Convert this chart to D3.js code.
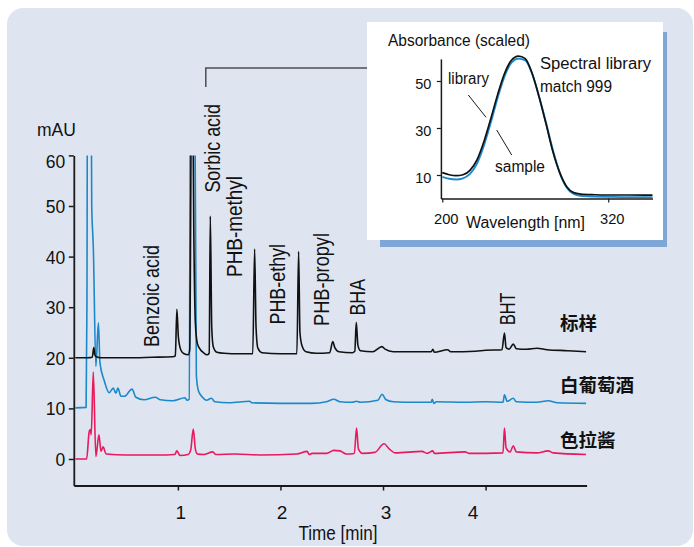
<!DOCTYPE html>
<html>
<head>
<meta charset="utf-8">
<script src="https://cdn.jsdelivr.net/npm/d3@7/dist/d3.min.js"></script>
<style>
  body { margin: 0; background: #ffffff; }
  svg { display: block; }
  text { font-family: "Liberation Sans", Arial, Helvetica, sans-serif; fill: #111; }
  .cjk { font-family: "Noto Sans CJK SC", "Noto Sans CJK TC", sans-serif; font-weight: 700; }
</style>
</head>
<body>
<svg id="chart" width="694" height="547"></svg>
<script>
// ---- Chromatograms: retention time (min) and detector signal (mAU) ----
// Standard mix (offset baseline 20 mAU)
const stdTime = [0.00, 0.12, 0.165, 0.18, 0.19, 0.205, 0.25, 0.50, 0.75, 0.95,
  0.975, 0.99, 1.005, 1.03, 1.06, 1.10, 1.115, 1.138, 1.155, 1.17,
  1.19, 1.22, 1.25, 1.285, 1.305, 1.316, 1.33, 1.345, 1.38, 1.45,
  1.60, 1.73, 1.748, 1.762, 1.78, 1.82, 2.00, 2.16, 2.177, 2.19,
  2.21, 2.25, 2.35, 2.48, 2.51, 2.53, 2.57, 2.70, 2.725, 2.739,
  2.755, 2.78, 2.90, 2.99, 3.02, 3.10, 3.30, 3.47, 3.486, 3.50,
  3.63, 3.66, 3.90, 4.00, 4.16, 4.184, 4.20, 4.23, 4.27, 4.30,
  4.40, 4.50, 4.60, 4.80, 4.98];
const stdSignal = [20.0, 20.0, 20.1, 22.0, 20.6, 20.2, 20.0, 20.0, 20.1, 20.2,
  20.4, 29.6, 24.0, 21.5, 20.8, 20.6, 21.5, 90, 45, 27,
  22.8, 21.6, 21.0, 20.6, 20.9, 48.0, 26, 22.2, 21.1, 20.9,
  20.8, 20.8, 41.5, 26, 21.9, 21.0, 20.8, 20.8, 41.0, 25,
  22.4, 21.2, 20.9, 21.0, 23.2, 22.0, 21.2, 21.0, 21.3, 27.0,
  22.5, 21.4, 21.2, 22.2, 21.7, 21.2, 21.2, 21.2, 21.7, 21.1,
  21.6, 21.2, 21.3, 21.5, 21.6, 24.9, 22.0, 21.7, 22.7, 21.8,
  21.7, 21.9, 21.6, 21.4, 21.2];

// White wine sample (offset baseline 10 mAU)
const wineTime = [0.00, 0.105, 0.113, 0.12, 0.15, 0.16, 0.17, 0.175, 0.20, 0.225,
  0.24, 0.28, 0.33, 0.37, 0.395, 0.415, 0.445, 0.478, 0.553, 0.59,
  0.67, 0.78, 0.83, 0.95, 1.07, 1.09, 1.11, 1.125, 1.16, 1.18,
  1.20, 1.24, 1.28, 1.326, 1.36, 1.50, 1.70, 1.72, 2.00, 2.30,
  2.45, 2.52, 2.58, 2.70, 2.74, 2.78, 2.95, 2.99, 3.03, 3.10,
  3.30, 3.47, 3.48, 3.495, 3.52, 3.80, 4.00, 4.17, 4.184, 4.21,
  4.27, 4.30, 4.50, 4.61, 4.70, 4.98];
const wineSignal = [10.1, 10.2, 30, 90, 90, 50, 44.4, 42, 18.3, 26.9,
  19, 15.6, 13.1, 14.0, 13.0, 14.0, 12.4, 12.4, 13.8, 12.2,
  11.7, 12.2, 11.7, 11.5, 12.1, 11.6, 11.8, 90, 90, 16.5,
  13.5, 12.2, 11.6, 12.0, 11.3, 11.1, 11.4, 11.1, 11.0, 11.0,
  11.3, 11.8, 11.3, 11.2, 11.4, 11.2, 11.6, 12.8, 11.7, 11.3,
  11.2, 11.2, 11.8, 11.0, 11.3, 11.2, 11.3, 11.2, 12.7, 11.4,
  12.0, 11.3, 11.2, 11.5, 11.1, 11.0];

// Salad dressing sample (baseline 0 mAU)
const dressingTime = [0.00, 0.11, 0.135, 0.145, 0.155, 0.175, 0.20, 0.23, 0.25, 0.27,
  0.30, 0.50, 0.80, 0.97, 0.99, 1.02, 1.10, 1.125, 1.15, 1.17,
  1.19, 1.25, 1.34, 1.37, 1.56, 1.80, 2.16, 2.26, 2.28, 2.31,
  2.45, 2.52, 2.58, 2.60, 2.64, 2.72, 2.742, 2.76, 2.80, 2.92,
  3.01, 3.06, 3.12, 3.38, 3.43, 3.486, 3.50, 3.80, 3.84, 4.17,
  4.184, 4.20, 4.24, 4.27, 4.30, 4.50, 4.61, 4.66, 4.98];
const dressingSignal = [0.0, 0.0, 5.4, 5.8, 4.8, 17.2, 0.5, 4.8, 1.5, 2.4,
  1.0, 0.8, 0.8, 0.9, 1.6, 0.7, 0.9, 1.8, 5.9, 2.0,
  1.0, 0.9, 1.4, 0.9, 1.0, 0.8, 1.0, 1.5, 0.9, 1.1,
  1.1, 1.7, 1.6, 1.4, 1.0, 1.1, 6.1, 2.0, 1.1, 1.3,
  3.0, 2.0, 1.2, 1.5, 1.1, 1.6, 1.1, 1.4, 1.1, 1.2,
  6.1, 2.2, 1.4, 2.6, 1.4, 1.2, 1.6, 1.2, 0.9];

const traceNames = ["标样", "白葡萄酒", "色拉酱"];
const timeTicks = [1, 2, 3, 4];
const signalTicks = [0, 10, 20, 30, 40, 50, 60];
const peakNames = ["Benzoic acid", "Sorbic acid", "PHB-methyl", "PHB-ethyl", "PHB-propyl", "BHA", "BHT"];

// ---- UV spectrum of sorbic acid: wavelength (nm) and scaled absorbance ----
const wavelength = [200, 205, 210, 215, 220, 225, 230, 235, 240, 245,
  250, 255, 260, 265, 270, 275, 280, 285, 290, 295,
  300, 310, 320, 335, 352];
const libraryAbs = [11.0, 10.1, 9.7, 10.1, 12.0, 16.3, 24.0, 33.8, 44.2, 53.2,
  58.8, 60.6, 59.5, 53.2, 43.2, 31.8, 19.9, 10.9, 5.0, 2.5,
  1.9, 1.6, 1.5, 1.5, 1.4];
const sampleAbs = [9.2, 8.4, 8.1, 8.6, 10.5, 14.8, 22.4, 32.2, 42.8, 52.0,
  57.8, 59.5, 58.8, 53.0, 43.4, 32.3, 20.5, 10.8, 4.6, 1.9,
  1.1, 0.8, 0.7, 0.6, 0.6];
const spectrumYTicks = [10, 30, 50];
const spectrumXTicks = [200, 320];

// ---------------------------------------------------------------------
const svg = d3.select("#chart");
const ink = "#1a1a1a";

// rounded background panel
svg.append("rect")
  .attr("x", 7).attr("y", 8).attr("width", 686).attr("height", 538)
  .attr("rx", 16).attr("fill", "#dfe5f0");

// main scales
const x = d3.scaleLinear().domain([-0.015, 4.985]).range([73.8, 586.6]);
const y = d3.scaleLinear().domain([-5.24, 60]).range([485.5, 155.4]);

// y axis
const yAxis = svg.append("g")
  .attr("transform", `translate(${x(-0.015)},0)`)
  .call(d3.axisLeft(y).tickValues(signalTicks).tickSize(5).tickSizeOuter(0));
yAxis.select(".domain").attr("stroke", ink).attr("stroke-width", 1.8);
yAxis.selectAll(".tick line").attr("stroke", ink).attr("stroke-width", 1.5);
yAxis.selectAll(".tick text")
  .attr("x", -8.5).attr("dy", null)
  .attr("y", d => d === 60 ? 12 : 6.5)
  .style("font-size", "17.5px").attr("fill", ink)
  .style("font-family", '"Liberation Sans", Arial, sans-serif');

// x axis
const xNudge = d => (d === 4 ? -13 : d === 2 ? 1 : 2.5);
const xAxis = svg.append("g")
  .attr("transform", `translate(0,${y(-5.24)})`)
  .call(d3.axisBottom(x).tickValues(timeTicks).tickSize(5).tickSizeOuter(0).tickFormat(d3.format("d")));
xAxis.select(".domain").attr("stroke", ink).attr("stroke-width", 1.8);
xAxis.selectAll(".tick line").attr("stroke", ink).attr("stroke-width", 1.5);
xAxis.selectAll(".tick text")
  .attr("y", 33.5).attr("dy", null).attr("x", xNudge)
  .style("font-size", "19px").attr("fill", ink)
  .style("font-family", '"Liberation Sans", Arial, sans-serif');

svg.append("text").attr("x", 338).attr("y", 540).attr("text-anchor", "middle")
  .attr("textLength", 79).attr("lengthAdjust", "spacingAndGlyphs")
  .style("font-size", "20px").text("Time [min]");
svg.append("text").attr("x", 37).attr("y", 136)
  .style("font-size", "17.5px").text("mAU");

// traces, clipped at the top of the signal axis
svg.append("clipPath").attr("id", "plotClip")
  .append("rect").attr("x", 70).attr("y", y(60)).attr("width", 530).attr("height", y(-5.24) - y(60));

const traceLine = d3.line()
  .x(d => x(d[0])).y(d => y(d[1]))
  .curve(d3.curveMonotoneX);

const traces = [
  { time: dressingTime, signal: dressingSignal, color: "#e8195c" },
  { time: wineTime, signal: wineSignal, color: "#1b88c9" },
  { time: stdTime, signal: stdSignal, color: "#111111" }
];
const traceGroup = svg.append("g").attr("clip-path", "url(#plotClip)");
traces.forEach(tr => {
  traceGroup.append("path")
    .datum(d3.zip(tr.time, tr.signal))
    .attr("d", traceLine)
    .attr("fill", "none")
    .attr("stroke", tr.color)
    .attr("stroke-width", 1.6)
    .attr("stroke-linejoin", "round");
});

// compound labels, rotated (text runs bottom to top)
const peakLabelLayout = [
  { x: 159, y: 347, len: 102 },
  { x: 219.5, y: 192.6, len: 88.6 },
  { x: 242.4, y: 277, len: 101 },
  { x: 284.8, y: 324.5, len: 80.5 },
  { x: 329.2, y: 326, len: 93 },
  { x: 364.5, y: 315.5, len: 36.6 },
  { x: 514.5, y: 325, len: 32.5 }
];
peakNames.forEach((name, i) => {
  const p = peakLabelLayout[i];
  svg.append("text")
    .attr("transform", `translate(${p.x},${p.y}) rotate(-90)`)
    .attr("textLength", p.len).attr("lengthAdjust", "spacingAndGlyphs")
    .style("font-size", "22px")
    .text(name);
});

// sample names at the right end of each trace
const traceNameY = [321.5, 383.7, 438.8];
traceNames.forEach((name, i) => {
  svg.append("text").attr("class", "cjk")
    .attr("x", 560).attr("y", traceNameY[i])
    .attr("dominant-baseline", "central")
    .style("font-size", "18.5px")
    .text(name);
});

// connector from the sorbic acid peak to the spectrum inset
svg.append("path")
  .attr("d", "M205.8,87 V68 H367")
  .attr("fill", "none").attr("stroke", "#4d4d4d").attr("stroke-width", 1.5);

// ---- inset: spectrum ----
svg.append("rect").attr("x", 380).attr("y", 32).attr("width", 287).attr("height", 215)
  .attr("fill", "#7ea7d8");
svg.append("rect").attr("x", 367).attr("y", 22).attr("width", 296).attr("height", 218)
  .attr("fill", "#ffffff");

const ix = d3.scaleLinear().domain([199, 352]).range([440.9, 652.5]);
const iy = d3.scaleLinear().domain([0, 59.4]).range([198.5, 58.9]);

const iyAxis = svg.append("g")
  .attr("transform", `translate(${ix(199)},0)`)
  .call(d3.axisLeft(iy).tickValues(spectrumYTicks).tickSize(4).tickSizeOuter(0));
iyAxis.select(".domain").attr("stroke", ink).attr("stroke-width", 1.5);
iyAxis.selectAll(".tick line").attr("stroke", ink).attr("stroke-width", 1.2);
iyAxis.selectAll(".tick text")
  .attr("x", -9.5).attr("dy", null).attr("y", 7.5)
  .style("font-size", "14.5px").attr("fill", ink)
  .style("font-family", '"Liberation Sans", Arial, sans-serif');

const ixAxis = svg.append("g")
  .attr("transform", `translate(0,${iy(0)})`)
  .call(d3.axisBottom(ix).tickValues(spectrumXTicks).tickSize(4).tickSizeOuter(0));
ixAxis.select(".domain").attr("stroke", ink).attr("stroke-width", 1.5);
ixAxis.selectAll(".tick line").attr("stroke", ink).attr("stroke-width", 1.2);
ixAxis.selectAll(".tick text")
  .attr("y", 25.5).attr("dy", null).attr("x", 3.5)
  .style("font-size", "14.7px").attr("fill", ink)
  .style("font-family", '"Liberation Sans", Arial, sans-serif');

const specLine = d3.line()
  .x(d => ix(d[0])).y(d => iy(d[1]))
  .curve(d3.curveMonotoneX);
svg.append("path").datum(d3.zip(wavelength, sampleAbs))
  .attr("d", specLine).attr("fill", "none")
  .attr("stroke", "#1b8ad0").attr("stroke-width", 1.9);
svg.append("path").datum(d3.zip(wavelength, libraryAbs))
  .attr("d", specLine).attr("fill", "none")
  .attr("stroke", "#111111").attr("stroke-width", 1.7);

svg.append("text").attr("x", 388).attr("y", 46)
  .attr("textLength", 142).attr("lengthAdjust", "spacingAndGlyphs")
  .style("font-size", "16px").text("Absorbance (scaled)");
svg.append("text").attr("x", 466).attr("y", 228)
  .attr("textLength", 119).attr("lengthAdjust", "spacingAndGlyphs")
  .style("font-size", "16px").text("Wavelength [nm]");
svg.append("text").attr("x", 448).attr("y", 84)
  .attr("textLength", 41).attr("lengthAdjust", "spacingAndGlyphs")
  .style("font-size", "16px").text("library");
svg.append("text").attr("x", 495).attr("y", 172)
  .attr("textLength", 50).attr("lengthAdjust", "spacingAndGlyphs")
  .style("font-size", "16px").text("sample");
svg.append("text").attr("x", 540).attr("y", 69)
  .attr("textLength", 111).attr("lengthAdjust", "spacingAndGlyphs")
  .style("font-size", "16px").text("Spectral library");
svg.append("text").attr("x", 540).attr("y", 92)
  .attr("textLength", 72).attr("lengthAdjust", "spacingAndGlyphs")
  .style("font-size", "16px").text("match 999");

// leader lines for the two spectra
svg.append("line").attr("x1", 468.3).attr("y1", 95).attr("x2", 486).attr("y2", 117.3)
  .attr("stroke", ink).attr("stroke-width", 1);
svg.append("line").attr("x1", 496.7).attr("y1", 130).attr("x2", 511.7).attr("y2", 155)
  .attr("stroke", ink).attr("stroke-width", 1);
</script>
</body>
</html>
